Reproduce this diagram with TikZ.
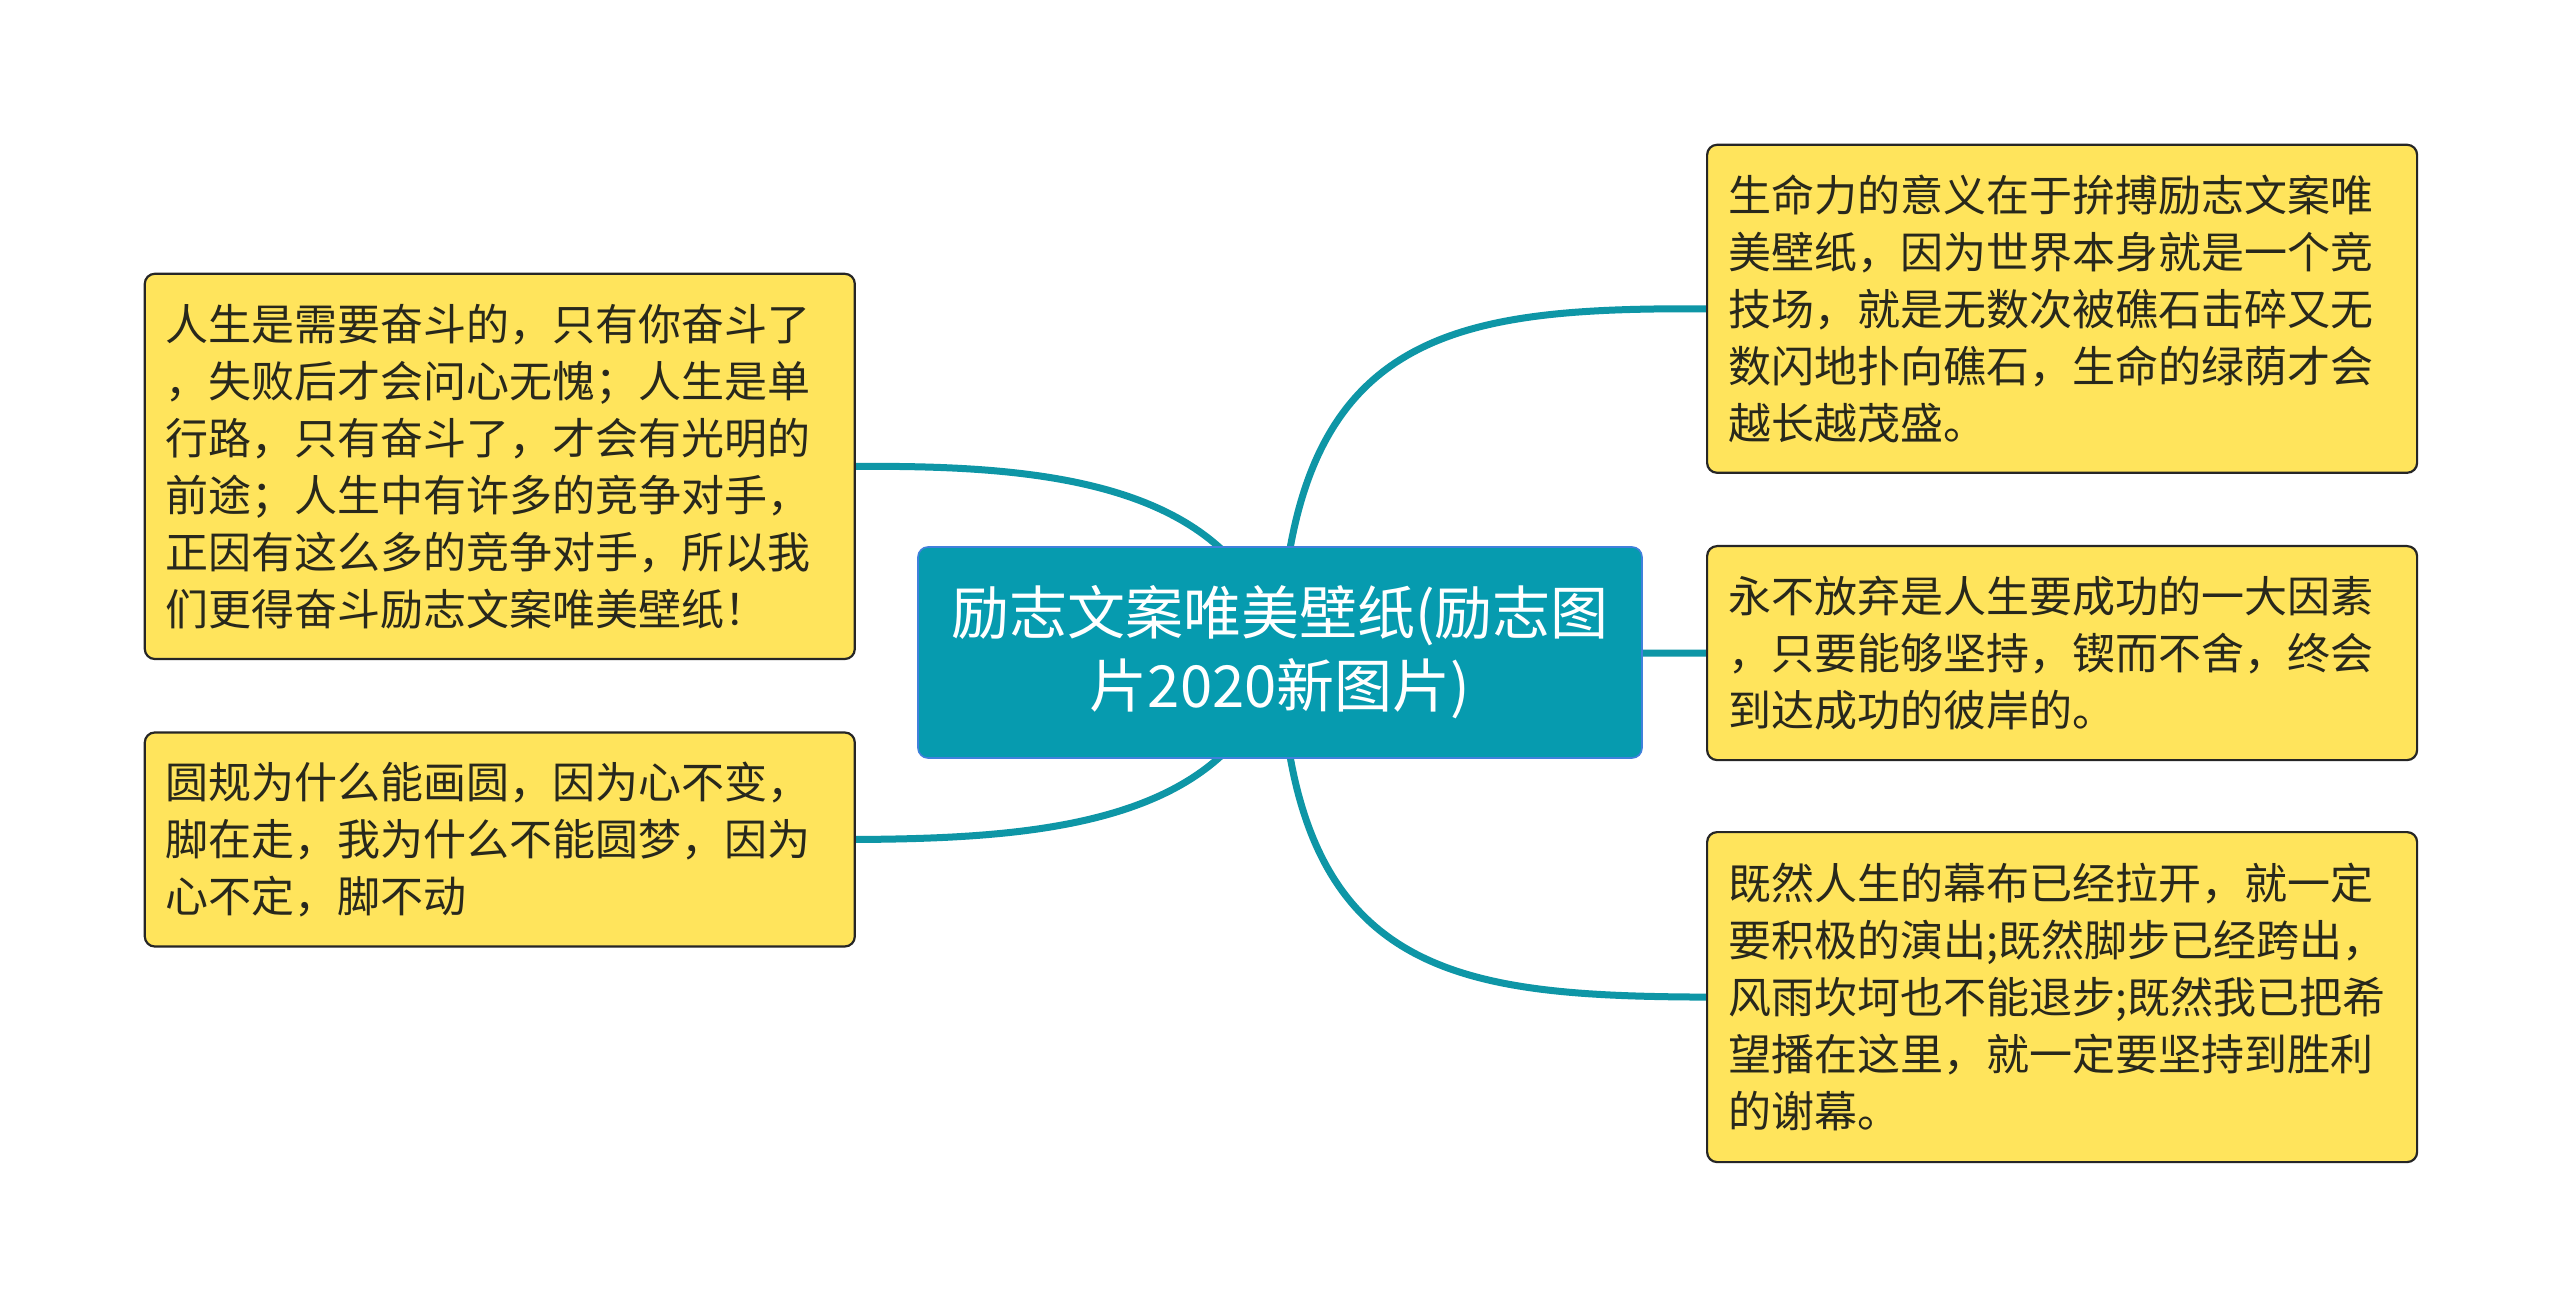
\documentclass[tikz,border=0pt]{standalone}
\usepackage{fontspec}
\setmainfont{Noto Sans CJK SC}
\usetikzlibrary{backgrounds}
\definecolor{rootfill}{RGB}{6,155,175}
\definecolor{linec}{RGB}{14,150,166}
\definecolor{yel}{RGB}{255,228,92}
\definecolor{txt}{RGB}{40,40,28}
\definecolor{rootborder}{RGB}{64,128,220}
\tikzset{
  leaf/.style={draw=black!85, line width=1.1pt, fill=yel, rounded corners=5pt,
    text=txt, align=left, text width=334pt, inner xsep=10.5pt, inner ysep=0pt,
    font=\fontsize{21.5pt}{28.5pt}\selectfont, anchor=north west},
  root/.style={draw=rootborder, line width=0.8pt, fill=rootfill, rounded corners=5pt,
    text=white, align=center, minimum width=362pt, minimum height=105.5pt,
    inner sep=0pt, font=\fontsize{29pt}{36.5pt}\selectfont},
  link/.style={draw=linec, line width=3.5pt}
}
\begin{document}
\begin{tikzpicture}[x=0.5pt, y=-0.5pt]
\useasboundingbox (0,0) rectangle (2560,1304);

\node[root] (root) at (1280,652.5) {励志文案唯美壁纸(励志图\\片2020新图片)};

\node[leaf, minimum height=192.6pt] (l1) at (143.7,272.7)
  {人生是需要奋斗的，只有你奋斗了\\，失败后才会问心无愧；人生是单\\行路，只有奋斗了，才会有光明的\\前途；人生中有许多的竞争对手，\\正因有这么多的竞争对手，所以我\\们更得奋斗励志文案唯美壁纸！};
\node[leaf, minimum height=107pt] (l2) at (143.7,731.4)
  {圆规为什么能画圆，因为心不变，\\脚在走，我为什么不能圆梦，因为\\心不定，脚不动};
\node[leaf, minimum height=164pt] (r1) at (1706,143.7)
  {生命力的意义在于拚搏励志文案唯\\美壁纸，因为世界本身就是一个竞\\技场，就是无数次被礁石击碎又无\\数闪地扑向礁石，生命的绿荫才会\\越长越茂盛。};
\node[leaf, minimum height=107pt] (r2) at (1706,545)
  {永不放弃是人生要成功的一大因素\\，只要能够坚持，锲而不舍，终会\\到达成功的彼岸的。};
\node[leaf, minimum height=165pt] (r3) at (1706,831)
  {既然人生的幕布已经拉开，就一定\\要积极的演出;既然脚步已经跨出，\\风雨坎坷也不能退步;既然我已把希\\望播在这里，就一定要坚持到胜利\\的谢幕。};

\begin{scope}[on background layer]
\fill[white] (0,0) rectangle (2560,1304);
\draw[link] (root.center) .. controls (1240,480) and (1040,465.3) .. (l1.east);
\draw[link] (root.center) .. controls (1240,825) and (1040,838.3) .. (l2.east);
\draw[link] (root.center) .. controls (1290,330) and (1450,307.7) .. (r1.west);
\draw[link] (root.center) -- (r2.west);
\draw[link] (root.center) .. controls (1290,975) and (1450,996) .. (r3.west);
\end{scope}
\end{tikzpicture}
\end{document}
